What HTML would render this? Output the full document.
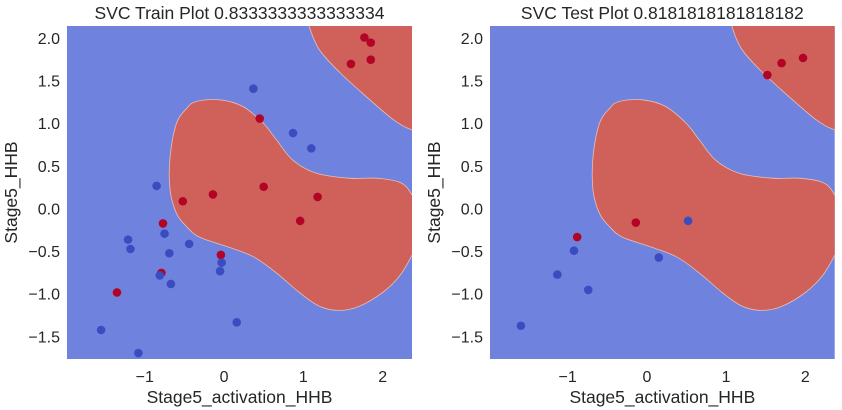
<!DOCTYPE html>
<html><head><meta charset="utf-8">
<style>
html,body{margin:0;padding:0;background:#fff;}
svg{display:block;font-family:"Liberation Sans",Arial,sans-serif;}
</style></head>
<body>
<svg id="chart" width="842" height="410"></svg>
<script>
const xTicks=[-1,0,1,2];
const xTickLabels=["\u22121","0","1","2"];
const yTicks=[2.0,1.5,1.0,0.5,0.0,-0.5,-1.0,-1.5];
const yTickLabels=["2.0","1.5","1.0","0.5","0.0","\u22120.5","\u22121.0","\u22121.5"];
const trainRedX=[1.77,1.85,1.85,1.60,0.45,0.50,1.18,0.96,-0.14,-0.52,-0.77,-0.04,-0.79,-1.35];
const trainRedY=[2.01,1.95,1.75,1.70,1.06,0.26,0.14,-0.14,0.17,0.09,-0.17,-0.54,-0.75,-0.98];
const trainBlueX=[0.37,0.87,1.10,-0.85,-0.75,-1.21,-1.18,-0.44,-0.69,-0.03,-0.05,-0.81,-0.67,0.16,-1.55,-1.08];
const trainBlueY=[1.41,0.89,0.71,0.27,-0.29,-0.36,-0.47,-0.41,-0.52,-0.63,-0.73,-0.78,-0.88,-1.33,-1.42,-1.69];
const testRedX=[-0.14,-0.88,1.52,1.70,1.97];
const testRedY=[-0.16,-0.33,1.57,1.71,1.77];
const testBlueX=[0.52,0.15,-0.92,-1.13,-0.74,-1.59];
const testBlueY=[-0.14,-0.57,-0.49,-0.77,-0.95,-1.37];
const blobX=[-0.35,-0.055,0.24,0.50,0.66,0.87,1.16,1.58,1.92,2.22,2.36,2.42,2.42,2.36,2.21,2.00,1.71,1.46,1.20,0.95,0.66,0.37,0.03,-0.31,-0.47,-0.60,-0.68,-0.68,-0.60,-0.47];
const blobY=[1.26,1.28,1.20,1.00,0.81,0.57,0.42,0.36,0.36,0.31,0.18,0.0,-0.4,-0.56,-0.79,-0.98,-1.14,-1.19,-1.14,-0.98,-0.75,-0.56,-0.44,-0.33,-0.21,-0.05,0.22,0.61,1.00,1.18];
const cornerX=[1.02,1.07,1.20,1.46,1.79,2.13,2.36,2.6,2.6];
const cornerY=[2.4,2.15,1.87,1.60,1.32,1.05,0.93,0.9,2.4];

const NS="http://www.w3.org/2000/svg";
const svg=document.getElementById('chart');
function mk(tag,attrs,parent){const e=document.createElementNS(NS,tag);for(const k in attrs)e.setAttribute(k,attrs[k]);(parent||svg).appendChild(e);return e;}
function smooth(pts){
  const n=pts.length;let d='M'+pts[0][0].toFixed(1)+','+pts[0][1].toFixed(1);
  for(let i=0;i<n;i++){
    const p0=pts[(i-1+n)%n],p1=pts[i],p2=pts[(i+1)%n],p3=pts[(i+2)%n];
    const c1=[p1[0]+(p2[0]-p0[0])/6,p1[1]+(p2[1]-p0[1])/6];
    const c2=[p2[0]-(p3[0]-p1[0])/6,p2[1]-(p3[1]-p1[1])/6];
    d+=' C'+c1.map(v=>v.toFixed(1)).join(',')+' '+c2.map(v=>v.toFixed(1)).join(',')+' '+p2.map(v=>v.toFixed(1)).join(',');
  }
  return d+'Z';
}
const X0=-1.98,X1=2.37,Y0=-1.76,Y1=2.145,TOP=26,BOT=359;
function panel(left,right,title,redX,redY,blueX,blueY,key){
  const sx=v=>left+(v-X0)/(X1-X0)*(right-left);
  const sy=v=>BOT-(v-Y0)/(Y1-Y0)*(BOT-TOP);
  const g=mk('g',{});
  
  
  const cid='clip-'+key;
  const cp=mk('clipPath',{id:cid},g);
  mk('rect',{x:left,y:TOP,width:right-left,height:BOT-TOP},cp);
  const bg=mk('rect',{x:left,y:TOP,width:right-left,height:BOT-TOP,fill:'#6f83de'},g);
  
  
  const cg=mk('g',{'clip-path':'url(#'+cid+')'},g);
  const shape=(xs,ys,name)=>{
    const pts=xs.map((x,i)=>[sx(x),sy(ys[i])]);
    const e=mk('path',{d:smooth(pts),fill:'#d0605a',stroke:'#e8c0b4','stroke-width':0.8},cg);
    
    
  };
  shape(blobX,blobY,key+'-red-region-center');
  shape(cornerX,cornerY,key+'-red-region-corner');
  redX.forEach((x,i)=>{const c=mk('circle',{cx:sx(x),cy:sy(redY[i]),r:4.3,fill:'#b40426'},cg);
    
    });
  blueX.forEach((x,i)=>{const c=mk('circle',{cx:sx(x),cy:sy(blueY[i]),r:4.3,fill:'#3b4cc0'},cg);
    
    });
  xTicks.forEach((t,i)=>{const e=mk('text',{x:sx(t),y:382,'text-anchor':'middle','font-size':16,fill:'#262626'},g);e.textContent=xTickLabels[i];
    
    });
  yTicks.forEach((t,i)=>{const e=mk('text',{x:left-7,y:sy(t)+5.5,'text-anchor':'end','font-size':16,fill:'#262626'},g);e.textContent=yTickLabels[i];
    
    });
  const tt=mk('text',{x:(left+right)/2,y:19,'text-anchor':'middle','font-size':17.5,fill:'#262626'},g);tt.textContent=title;
  
  
  const xl=mk('text',{x:(left+right)/2,y:403,'text-anchor':'middle','font-size':17.5,fill:'#262626'},g);xl.textContent='Stage5_activation_HHB';
  
  
  const yl=mk('text',{x:0,y:0,'text-anchor':'middle','font-size':17.5,fill:'#262626',transform:'translate('+(left-50)+','+((TOP+BOT)/2)+') rotate(-90)'},g);yl.textContent='Stage5_HHB';
  
  
}
panel(67,412,'SVC Train Plot 0.8333333333333334',trainRedX,trainRedY,trainBlueX,trainBlueY,'train');
panel(490,834.7,'SVC Test Plot 0.8181818181818182',testRedX,testRedY,testBlueX,testBlueY,'test');
</script>
</body></html>
